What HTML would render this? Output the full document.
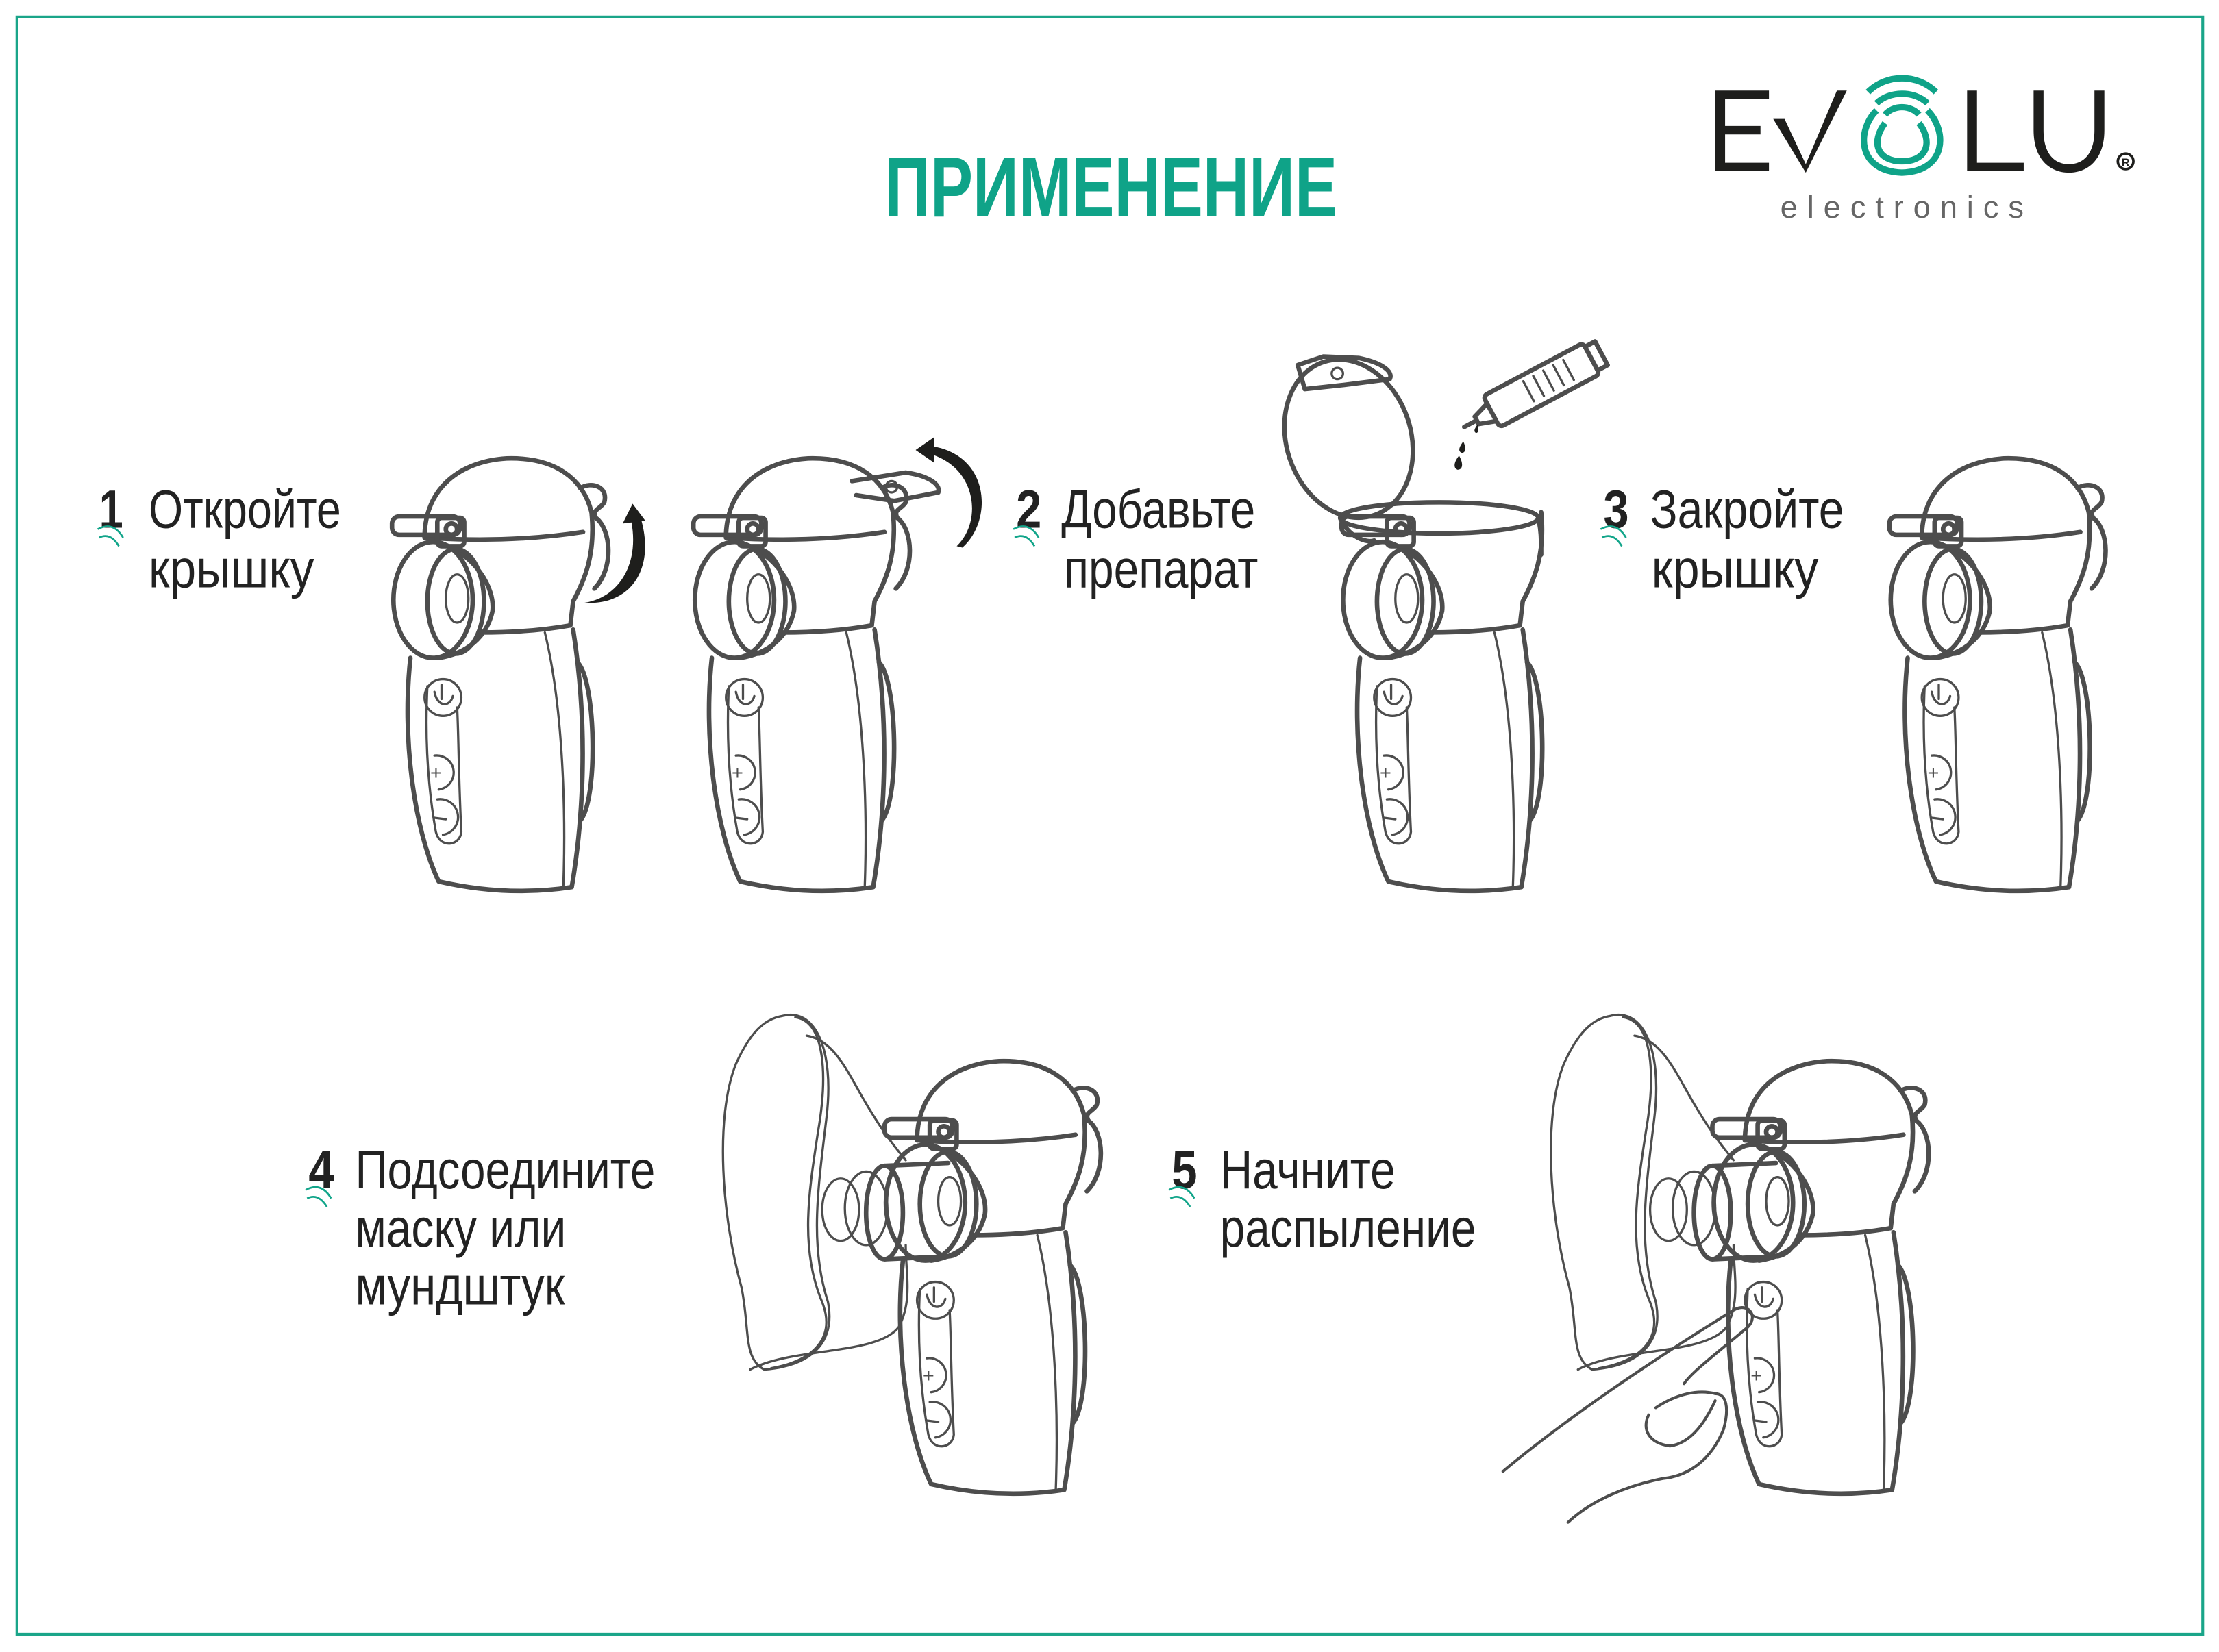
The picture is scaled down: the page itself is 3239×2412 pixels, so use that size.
<!DOCTYPE html>
<html><head><meta charset="utf-8"><style>
html,body{margin:0;padding:0;background:#fff;}
svg{display:block;}
.t{font-family:"Liberation Sans Narrow","Liberation Sans",sans-serif;fill:#222;font-size:38px;}
.n{font-family:"Liberation Sans Narrow","Liberation Sans",sans-serif;fill:#222;font-size:38px;font-weight:bold;}
.s{fill:none;stroke:#4d4d4d;stroke-width:3.2;stroke-linecap:round;stroke-linejoin:round;}
.th{fill:none;stroke:#4d4d4d;stroke-width:1.6;stroke-linecap:round;}
.w{fill:none;stroke:#12a58a;stroke-width:1.3;}
</style></head><body>
<svg width="3239" height="2412" viewBox="0 0 1568 1167.6" xmlns="http://www.w3.org/2000/svg">
<defs>
<g id="head">
  <path class="s" d="M300,380 C300,345 325,326 358,324 C392,323 412,338 418,362"/>
  <path class="s" d="M410,345 C418,340 430,344 427,355 C424,360 418,360 421,366 C432,374 434,402 420,416"/>
  <path class="s" d="M300,380 Q360,384 412,376"/>
  <path class="s" d="M418,362 C421,392 413,410 405,425 L403,442"/>
  <rect class="s" x="277" y="365" width="48" height="13" rx="5" fill="#fff"/>
  <rect class="s" x="309" y="366" width="19" height="20" rx="3" fill="#fff"/>
  <circle class="s" cx="319" cy="374" r="4"/>
</g>
<g id="body">
  <path class="s" d="M340,447 Q375,447 403,442"/>
  <path class="s" d="M312,384 C335,392 350,415 348,432 C344,450 330,462 310,465"/>
  <ellipse class="s" cx="306" cy="424" rx="28" ry="41" fill="#fff"/>
  <ellipse class="s" cx="322" cy="425" rx="20" ry="37"/>
  <ellipse class="th" cx="323" cy="423" rx="8" ry="17"/>
  <path class="s" d="M290,465 C284,520 292,585 310,623 Q358,634 404,627 C412,580 416,515 405,445"/>
  <path class="th" d="M385,447 C398,500 400,575 398,628"/>
  <path class="s" d="M408,468 C421,480 423,565 410,580"/>
  <path class="th" d="M302,485 C300,525 303,560 308,588 C311,600 325,598 326,588 C324,550 324,515 323,500"/>
  <circle class="th" cx="313" cy="493" r="13"/>
  <path class="th" d="M307,489 C309,500 318,500 320,492 M312,484 L312,494"/>
  <path class="th" d="M307,534 A12,12 0 0 1 310,558"/>
  <text x="304" y="551" font-size="14" fill="#4d4d4d" font-family="Liberation Sans">+</text>
  <path class="th" d="M309,565 A12,12 0 0 1 313,590"/>
  <path class="th" d="M307,578 L315,579"/>
</g>
<g id="mask">
  <path class="th" d="M553,718 C575,712 590,740 584,790 C578,840 572,880 585,920 C590,945 578,965 540,968 C525,960 530,940 524,910 C510,860 505,790 520,752 C530,730 540,720 553,718 Z"/>
  <path class="th" d="M562,719 C583,722 585,760 578,800 C572,840 565,880 580,918 C592,945 575,962 545,967"/>
  <path class="th" d="M530,968 C560,952 620,958 635,938 C645,920 640,900 640,880"/>
  <path class="th" d="M570,732 C590,735 600,760 612,780 C622,797 630,808 640,820"/>
  <ellipse class="th" cx="594" cy="855" rx="13" ry="22"/>
  <ellipse class="th" cx="612" cy="854" rx="15" ry="26"/>
  <path class="s" d="M625,824 L670,822 M625,890 L670,888"/>
  <ellipse class="s" cx="625" cy="857" rx="13" ry="33" fill="none"/>
</g>
</defs>

<rect x="12" y="12" width="1544.5" height="1143" fill="none" stroke="#1aa589" stroke-width="2"/>

<text x="785" y="153" text-anchor="middle" font-family="Liberation Sans Narrow,Liberation Sans,sans-serif" font-weight="bold" font-size="60" fill="#0fa388" textLength="320" lengthAdjust="spacingAndGlyphs">ПРИМЕНЕНИЕ</text>

<!-- logo -->
<g fill="#1e1e1c">
  <path d="M1212,64 h38 v6 h-31 v19 h25 v6 h-25 v20 h31 v6 h-38 z"/>
  <path d="M1253,84 h8 l15,32 l22,-52 h7 l-29,58 z"/>
  <path d="M1390,64 h7 v51 h33 v6 h-40 z"/>
  <path d="M1437,64 h7 v28 c0,17 8,24 18,24 c10,0 18,-7 18,-24 v-28 h7 v28 c0,21 -12,30 -25,30 c-13,0 -25,-9 -25,-30 z"/>
</g>
<g fill="none" stroke="#0fa388" stroke-width="4.5">
  <path d="M1326,78 C1312,92 1312,121 1344,122 C1376,121 1376,92 1362,78"/>
  <path d="M1332,87 C1322,100 1326,114 1344,114 C1362,114 1366,100 1356,87"/>
  <path d="M1332,81 C1338,74 1350,74 1356,81"/>
  <path d="M1326,73 C1335,64 1353,64 1362,73"/>
  <path d="M1320,65 C1333,52 1355,52 1368,65"/>
</g>
<circle cx="1502" cy="114" r="5.5" fill="none" stroke="#1e1e1c" stroke-width="1.8"/>
<text x="1502" y="117.5" text-anchor="middle" font-family="Liberation Sans" font-weight="bold" font-size="8" fill="#1e1e1c">R</text>
<text x="1258" y="154" font-family="Liberation Sans Narrow,Liberation Sans,sans-serif" font-size="22" fill="#666" textLength="172" lengthAdjust="spacing">electronics</text>

<!-- labels -->
<g>
  <text class="n" x="70" y="373" textLength="17" lengthAdjust="spacingAndGlyphs">1</text>
  <text class="t" x="105" y="373" textLength="136" lengthAdjust="spacingAndGlyphs">Откройте</text>
  <text class="t" x="105" y="415" textLength="117" lengthAdjust="spacingAndGlyphs">крышку</text>
  <text class="n" x="718" y="373" textLength="18" lengthAdjust="spacingAndGlyphs">2</text>
  <text class="t" x="750" y="373" textLength="137" lengthAdjust="spacingAndGlyphs">Добавьте</text>
  <text class="t" x="752" y="415" textLength="137" lengthAdjust="spacingAndGlyphs">препарат</text>
  <text class="n" x="1133" y="373" textLength="18" lengthAdjust="spacingAndGlyphs">3</text>
  <text class="t" x="1166" y="373" textLength="137" lengthAdjust="spacingAndGlyphs">Закройте</text>
  <text class="t" x="1167" y="415" textLength="118" lengthAdjust="spacingAndGlyphs">крышку</text>
  <text class="n" x="218" y="840" textLength="18" lengthAdjust="spacingAndGlyphs">4</text>
  <text class="t" x="251" y="840" textLength="212" lengthAdjust="spacingAndGlyphs">Подсоедините</text>
  <text class="t" x="251" y="881" textLength="149" lengthAdjust="spacingAndGlyphs">маску или</text>
  <text class="t" x="251" y="922" textLength="148" lengthAdjust="spacingAndGlyphs">мундштук</text>
  <text class="n" x="828" y="840" textLength="18" lengthAdjust="spacingAndGlyphs">5</text>
  <text class="t" x="862" y="840" textLength="124" lengthAdjust="spacingAndGlyphs">Начните</text>
  <text class="t" x="862" y="881" textLength="181" lengthAdjust="spacingAndGlyphs">распыление</text>
</g>
<g>
  <path class="w" d="M70,380 Q78,376 84,386 M69,374 Q80,368 87,380"/>
  <path class="w" d="M717,380 Q725,376 731,386 M716,374 Q727,368 734,380"/>
  <path class="w" d="M1132,380 Q1140,376 1146,386 M1131,374 Q1142,368 1149,380"/>
  <path class="w" d="M217,847 Q225,843 231,853 M216,841 Q227,835 234,847"/>
  <path class="w" d="M827,847 Q835,843 841,853 M826,841 Q837,835 844,847"/>
</g>

<!-- device 1 -->
<use href="#head"/><use href="#body"/>
<path d="M413,426 C438,422 452,398 446,368 L453,367 C463,402 446,428 413,426 Z" fill="#1e1e1c"/>
<path d="M440,370 L447,356 L456,368 Z" fill="#1e1e1c"/>

<!-- device 2 -->
<g transform="translate(213,0)"><use href="#head"/><use href="#body"/></g>
<path class="s" d="M602,340 L640,334 C655,336 665,342 663,348 L632,354 L605,350" fill="#fff"/>
<circle class="th" cx="630" cy="344" r="4"/>
<path d="M654,320 C690,328 695,368 676,386 L680,387 C702,368 700,320 656,315 Z" fill="#1e1e1c"/>
<path d="M647,318 L660,309 L660,327 Z" fill="#1e1e1c"/>

<!-- device 3 (open lid) -->
<g transform="translate(671,0)"><use href="#body"/>
  <path class="s" d="M418,362 C421,392 413,410 405,425 L403,442"/>
  <ellipse class="s" cx="346" cy="366" rx="70" ry="11"/>
  <path class="s" d="M276,366 C282,380 295,384 300,382 M416,366 C418,375 418,380 418,392"/>
  <rect class="s" x="277" y="365" width="48" height="13" rx="5" fill="#fff"/>
  <rect class="s" x="309" y="366" width="19" height="20" rx="3" fill="#fff"/>
  <circle class="s" cx="319" cy="374" r="4"/>
</g>
<ellipse class="s" cx="953" cy="310" rx="44" ry="57" transform="rotate(-18 953 310)" fill="#fff"/>
<path class="s" d="M917,258 L935,252 L960,253 C975,256 985,262 982,268 L950,272 L922,275 Z" fill="#fff"/>
<circle class="th" cx="945" cy="264" r="4"/>
<g transform="rotate(-28 1085 275)">
  <rect class="s" x="1050" y="262" width="80" height="25" rx="3" fill="#fff"/>
  <rect class="s" x="1130" y="265" width="8" height="19"/>
  <path class="s" d="M1050,268 L1038,272 L1038,278 L1050,282 M1038,275 L1028,275"/>
  <path class="th" d="M1080,266 v16 M1088,266 v16 M1096,266 v16 M1104,266 v16 M1112,266 v16"/>
</g>
<path d="M1034,312 c-3,4 -4,7 -1,8 c3,0 3,-4 1,-8 z M1044,300 c-2,3 -3,5 -1,6 c2,0 2,-3 1,-6 z M1031,322 c-4,5 -4,9 -1,10 c4,0 4,-5 1,-10 z" fill="#1e1e1c"/>

<!-- device 4 -->
<g transform="translate(1058,0)"><use href="#head"/><use href="#body"/></g>

<!-- device 5 -->
<use href="#mask"/>
<g transform="translate(348,426)"><use href="#head"/><use href="#body"/></g>

<!-- device 6 -->
<g transform="translate(585,0)"><use href="#mask"/></g>
<g transform="translate(933,426)"><use href="#head"/><use href="#body"/></g>
<path class="s" style="stroke-width:2" d="M1062,1040 C1110,1000 1170,960 1225,926 C1235,920 1243,930 1235,938 C1215,955 1195,970 1190,978"/>
<path class="s" style="stroke-width:2" d="M1108,1076 C1125,1060 1150,1050 1175,1045 C1195,1043 1210,1030 1218,1010 C1222,995 1220,985 1212,985"/>
<path class="s" style="stroke-width:2" d="M1165,1000 C1160,1010 1165,1020 1180,1022 C1195,1020 1205,1005 1212,990 M1170,995 C1185,985 1200,982 1212,985"/>
</svg>
</body></html>
